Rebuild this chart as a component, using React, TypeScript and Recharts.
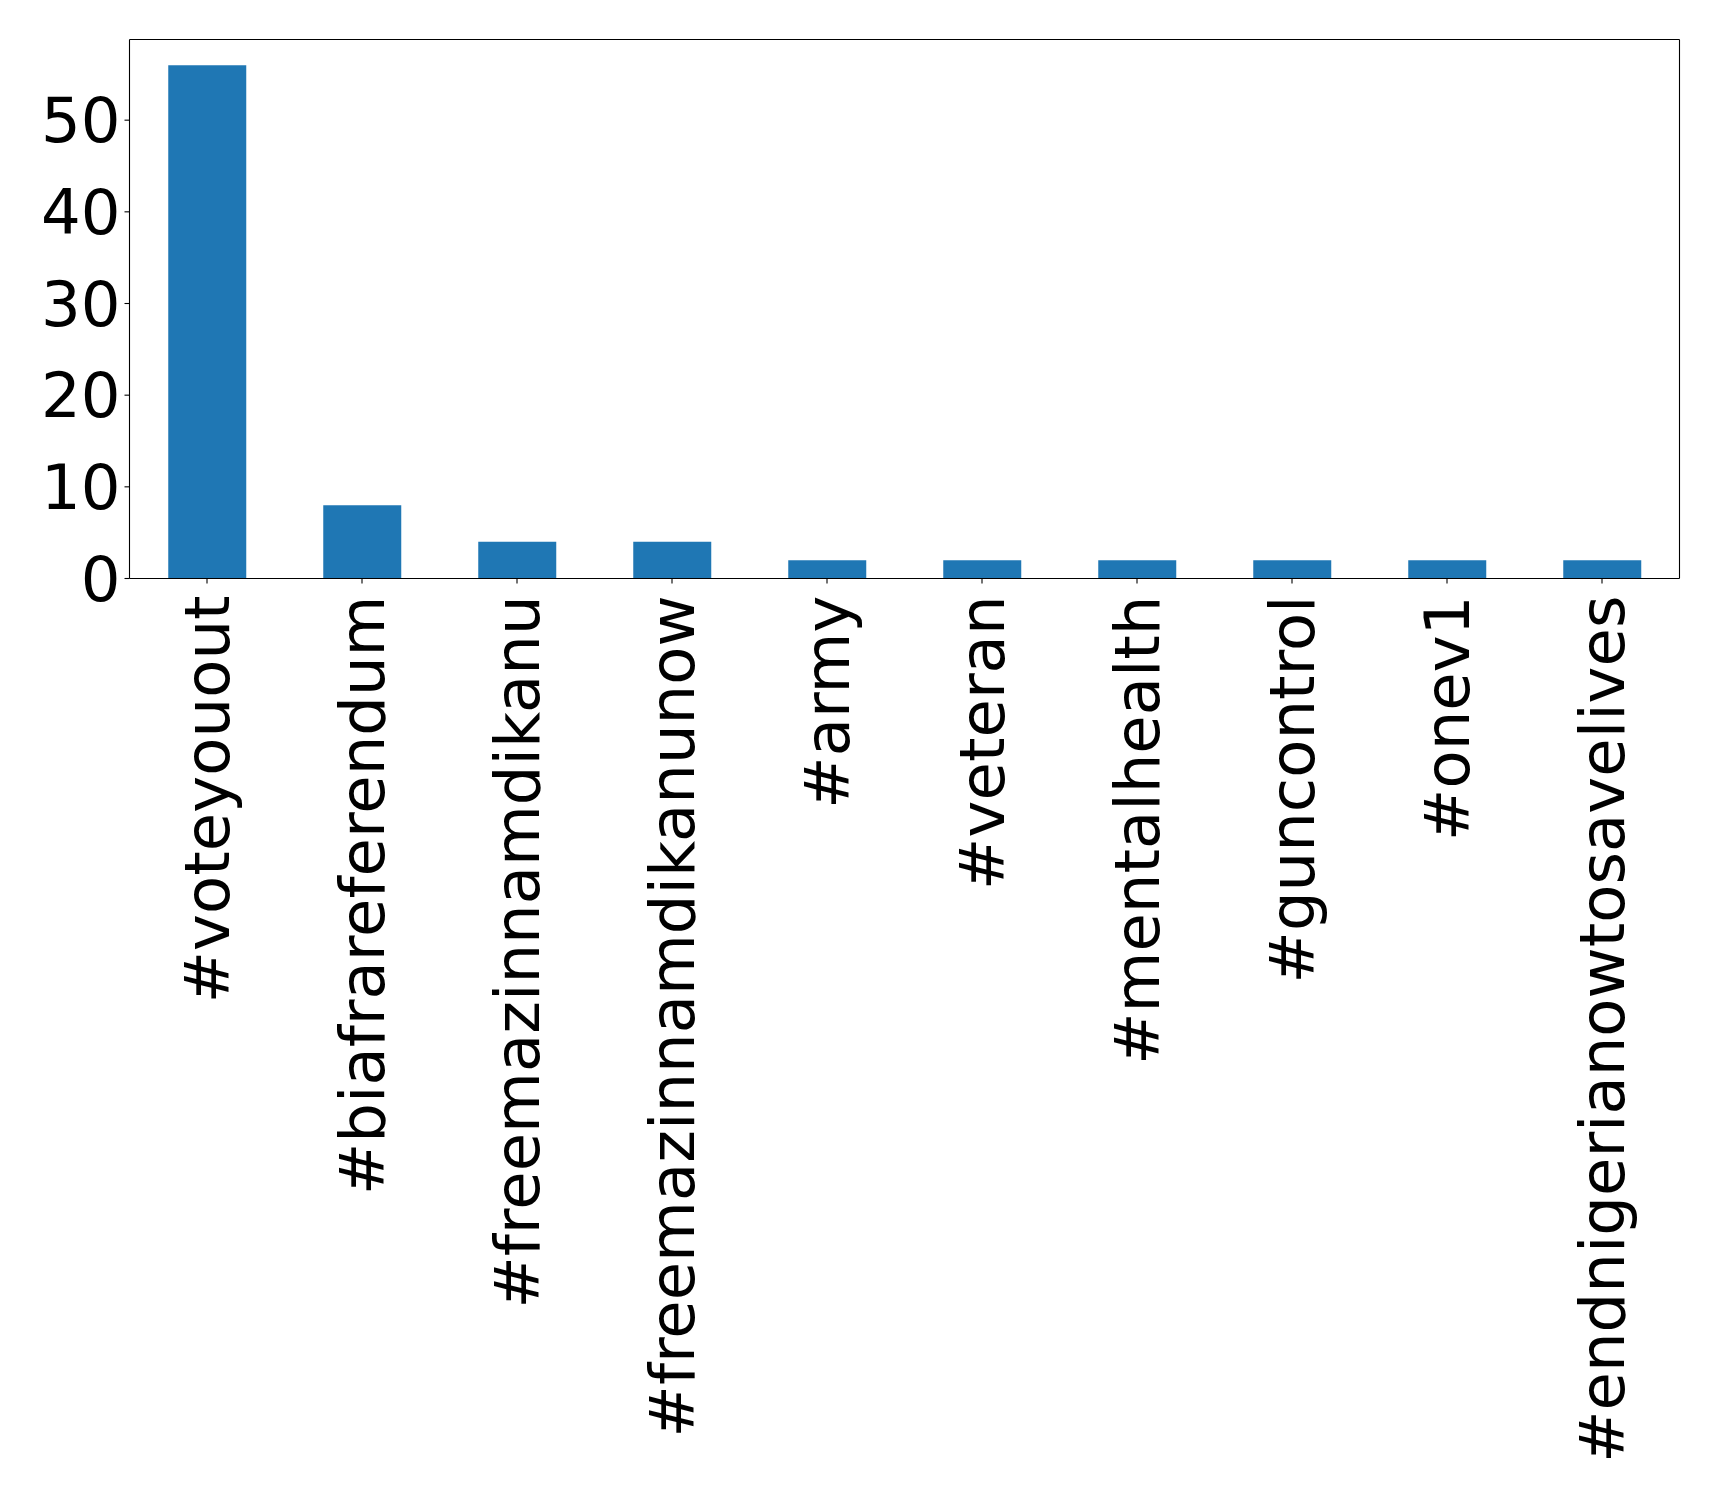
import { BarChart, Bar, XAxis, YAxis } from 'recharts'

const hashtags = [
  '#voteyouout',
  '#biafrareferendum',
  '#freemazinnamdikanu',
  '#freemazinnamdikanunow',
  '#army',
  '#veteran',
  '#mentalhealth',
  '#guncontrol',
  '#onev1',
  '#endnigerianowtosavelives',
]
const counts = [56, 8, 4, 4, 2, 2, 2, 2, 2, 2]
const yTicks = [0, 10, 20, 30, 40, 50]

const data = hashtags.map((tag, i) => ({ tag, count: counts[i] }))

const FONT = 'DejaVu Sans, sans-serif'
const FONT_SIZE = 62.5
const frameLine = { stroke: '#000', strokeWidth: 1.1 }

// rotated hashtag label, end of text sits just under the tick
function TagTick({ x, y, payload }: any) {
  return (
    <text
      x={x}
      y={y}
      transform={`rotate(-90, ${x}, ${y})`}
      textAnchor="end"
      dominantBaseline="central"
      fontFamily={FONT}
      fontSize={FONT_SIZE}
      fill="#000"
    >
      {payload.value}
    </text>
  )
}

export default function App() {
  return (
    <div style={{ position: 'absolute', left: 0, top: 0, background: '#fff' }}>
      <BarChart
        width={1719}
        height={1495}
        data={data}
        margin={{ top: 38.5, right: 38.5, left: 0, bottom: 0 }}
        barCategoryGap="25%"
      >
        <XAxis
          xAxisId="bottom"
          dataKey="tag"
          interval={0}
          height={916.5}
          tick={<TagTick />}
          tickSize={5}
          tickMargin={12}
          axisLine={frameLine}
          tickLine={frameLine}
        />
        <XAxis
          xAxisId="top"
          orientation="top"
          dataKey="tag"
          height={1}
          tick={false}
          tickLine={false}
          axisLine={frameLine}
        />
        <YAxis
          yAxisId="left"
          width={129.5}
          domain={[0, 58.8]}
          ticks={yTicks}
          allowDataOverflow
          tickSize={5}
          tickMargin={4}
          tick={{ fontFamily: FONT, fontSize: FONT_SIZE, fill: '#000' }}
          axisLine={frameLine}
          tickLine={frameLine}
        />
        <YAxis
          yAxisId="right"
          orientation="right"
          width={1}
          domain={[0, 58.8]}
          tick={false}
          tickLine={false}
          axisLine={frameLine}
        />
        <Bar
          dataKey="count"
          xAxisId="bottom"
          yAxisId="left"
          fill="#1f77b4"
          isAnimationActive={false}
        />
      </BarChart>
    </div>
  )
}
